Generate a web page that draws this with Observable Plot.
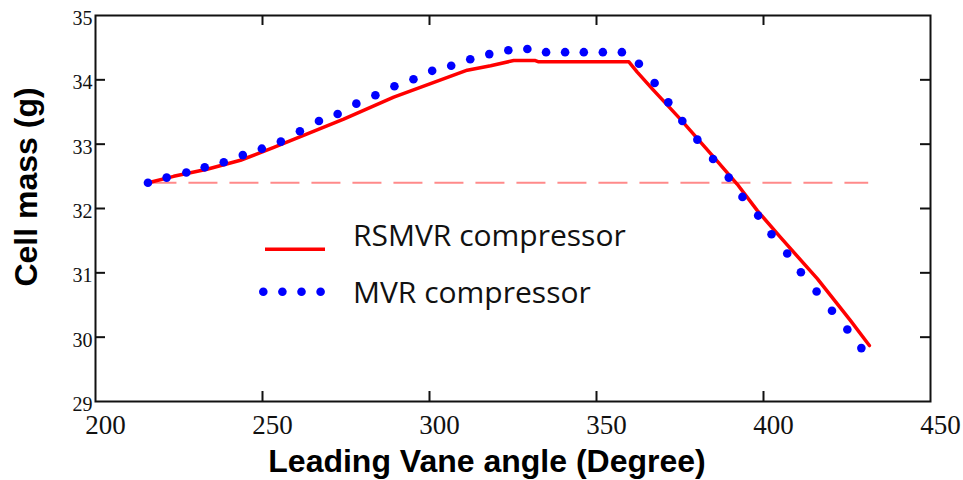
<!DOCTYPE html>
<html>
<head>
<meta charset="utf-8">
<script src="https://cdn.jsdelivr.net/npm/d3@7"></script>
<script src="https://cdn.jsdelivr.net/npm/@observablehq/plot@0.6"></script>
<style>
  body { margin: 0; background: #fff; }
  #chart { width: 963px; height: 480px; }
</style>
</head>
<body>
<div id="chart"></div>
<script>
// ---- Data ----
const xDomain = [200, 450];
const yDomain = [29, 35];
const xTicks = [200, 250, 300, 350, 400, 450];
const yTicks = [29, 30, 31, 32, 33, 34, 35];
const innerXTicks = [250, 300, 350, 400];
const innerYTicks = [30, 31, 32, 33, 34];

const xLabel = "Leading Vane angle (Degree)";
const yLabel = "Cell mass (g)";
const seriesNames = ["RSMVR compressor", "MVR compressor"];

// RSMVR compressor (red solid line)
const rsmvrAngle = [215.8, 223.4, 233.4, 243.4, 253.4, 263.4, 274.3, 289.3, 300.3, 311.3, 318.3, 325.2, 331.7, 332.7, 359.7, 362.2, 366.7, 375.1, 385.1, 392.1, 398.1, 405.1, 416.1, 426.0, 431.7];
const rsmvrMass  = [32.40, 32.50, 32.61, 32.75, 32.95, 33.16, 33.39, 33.73, 33.94, 34.15, 34.22, 34.30, 34.30, 34.28, 34.28, 34.12, 33.86, 33.39, 32.80, 32.38, 31.97, 31.55, 30.91, 30.26, 29.87];

// MVR compressor (blue dotted)
const mvrAngle = [215.7, 221.3, 227.2, 232.7, 238.4, 244.1, 249.8, 255.5, 261.2, 266.9, 272.5, 278.1, 283.8, 289.5, 295.2, 300.8, 306.5, 312.2, 317.9, 323.6, 329.3, 334.9, 340.6, 346.2, 351.9, 357.6, 362.7, 367.4, 371.5, 375.7, 380.2, 384.9, 389.6, 393.7, 398.4, 402.4, 407.1, 411.2, 415.9, 420.5, 425.1, 429.3];
const mvrMass  = [32.40, 32.48, 32.56, 32.64, 32.72, 32.83, 32.93, 33.04, 33.20, 33.36, 33.47, 33.63, 33.76, 33.90, 34.01, 34.14, 34.22, 34.32, 34.40, 34.46, 34.48, 34.43, 34.43, 34.43, 34.43, 34.43, 34.25, 33.95, 33.65, 33.36, 33.07, 32.77, 32.48, 32.18, 31.89, 31.60, 31.30, 31.01, 30.71, 30.41, 30.12, 29.83];

// Dashed reference line
const refMass = 32.4;
const refAngleStart = 215.7;
const refAngleEnd = 431.5;

// ---- Build tables ----
const rsmvr = rsmvrAngle.map((a, i) => ({angle: a, mass: rsmvrMass[i]}));
const mvr = mvrAngle.map((a, i) => ({angle: a, mass: mvrMass[i]}));

const tickStyle = {stroke: "#111", strokeWidth: 2};

const chart = Plot.plot({
  width: 963,
  height: 480,
  marginLeft: 95,
  marginRight: 33,
  marginTop: 15,
  marginBottom: 79,
  style: {background: "white", color: "#111"},
  x: {domain: xDomain},
  y: {domain: yDomain},
  marks: [
    Plot.ruleY([refMass], {x1: refAngleStart, x2: refAngleEnd, stroke: "#ff8a8a", strokeWidth: 2, strokeDasharray: "29,12"}),
    Plot.line(rsmvr, {x: "angle", y: "mass", stroke: "#ff0000", strokeWidth: 3.5}),
    Plot.dot(mvr, {x: "angle", y: "mass", r: 4.3, fill: "#0000ff"}),
    Plot.frame({stroke: "#111", strokeWidth: 2}),
    Plot.ruleX(innerXTicks, {x: d => d, y1: yDomain[0], y2: yDomain[0], insetTop: -10, ...tickStyle}),
    Plot.ruleX(innerXTicks, {x: d => d, y1: yDomain[1], y2: yDomain[1], insetBottom: -10, ...tickStyle}),
    Plot.ruleY(innerYTicks, {y: d => d, x1: xDomain[0], x2: xDomain[0], insetRight: -10, ...tickStyle}),
    Plot.ruleY(innerYTicks, {y: d => d, x1: xDomain[1], x2: xDomain[1], insetLeft: -10, ...tickStyle}),
    Plot.axisX(xTicks, {tickSize: 0, tickPadding: 13, fontSize: 27, fontFamily: "Liberation Serif", dx: 10, label: null, tickFormat: "d", fill: "#111"}),
    Plot.axisY(yTicks, {tickSize: 0, tickPadding: 3, fontSize: 20, fontFamily: "Liberation Serif", dy: 3, label: null, tickFormat: "d", fill: "#111"}),
    Plot.text([xLabel], {frameAnchor: "bottom", textAnchor: "middle", lineAnchor: "middle", dx: -26, dy: 60, fontSize: 32, fontWeight: "bold", fontFamily: "Liberation Sans", fill: "#000"}),
    Plot.text([yLabel], {frameAnchor: "left", textAnchor: "middle", lineAnchor: "middle", rotate: -90, dx: -69, dy: -21.5, fontSize: 32, fontWeight: "bold", fontFamily: "Liberation Sans", fill: "#000"})
  ]
});

document.getElementById("chart").appendChild(chart);

// ---- Legend (inside the plot area) ----
const svg = d3.select(chart);
const leg = svg.append("g")
  .attr("font-family", "'Open Sans', sans-serif")
  .attr("font-size", 30)
  .attr("text-anchor", "start")
  .attr("fill", "#111");
leg.append("line").attr("x1", 265).attr("x2", 325).attr("y1", 249.3).attr("y2", 249.3)
  .attr("stroke", "#ff0000").attr("stroke-width", 3.5);
leg.append("text").attr("x", 353).attr("y", 246).text(seriesNames[0]);
leg.selectAll("circle.leg").data([0, 1, 2, 3]).join("circle")
  .attr("cx", d => 263.3 + d * 19.1).attr("cy", 291.7).attr("r", 4.3).attr("fill", "#0000ff");
leg.append("text").attr("x", 353).attr("y", 303).text(seriesNames[1]);
</script>
</body>
</html>
